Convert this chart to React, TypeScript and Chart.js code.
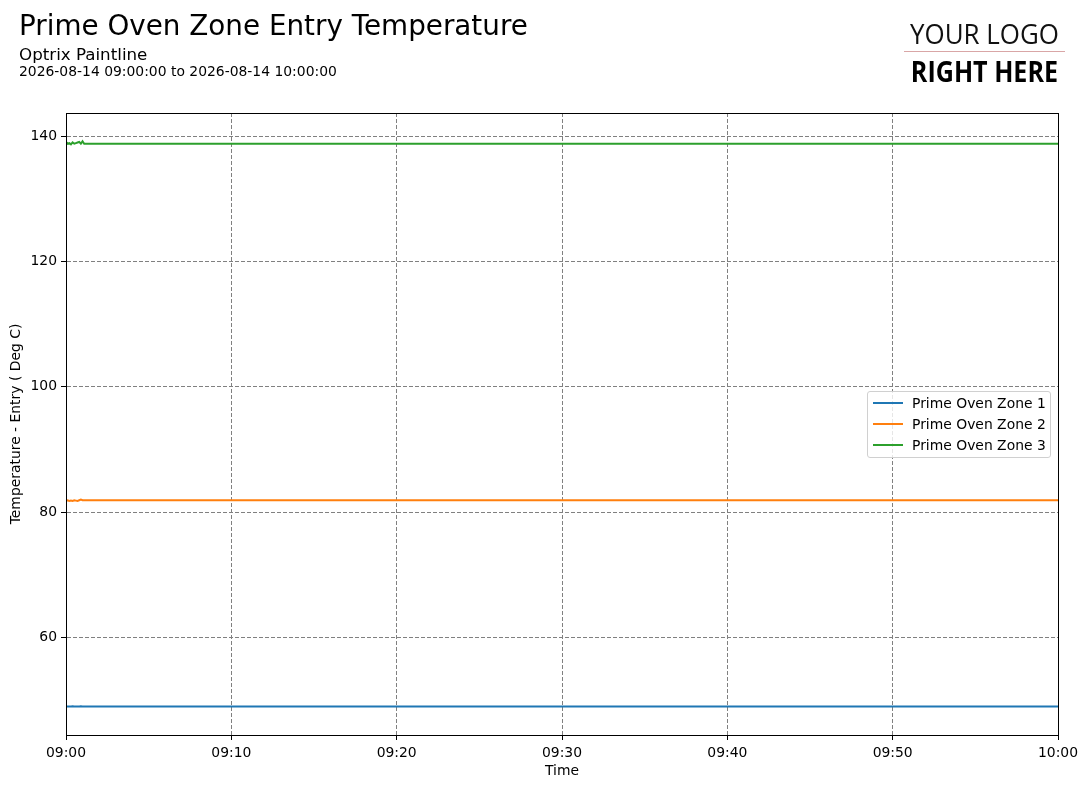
import React, { useEffect, useRef } from "react";
import { Chart, registerables } from "chart.js";

Chart.register(...registerables);

const timeSeconds = [0, 6, 12, 18, 24, 30, 36, 42, 48, 54, 60, 66, 72, 3600];
const zone1 = [49.0, 49.0, 48.98, 49.0, 49.02, 49.0, 48.98, 49.0, 49.0, 49.02, 49.0, 49.0, 49.0, 49.0];
const zone2 = [81.8, 81.9, 81.8, 81.85, 81.8, 81.9, 81.85, 81.8, 81.9, 82.0, 81.9, 81.9, 81.9, 81.9];
const zone3 = [139.1, 138.8, 138.9, 138.7, 139.0, 138.8, 138.9, 139.0, 139.1, 138.8, 139.2, 138.8, 138.8, 138.8];
const seriesNames = ["Prime Oven Zone 1", "Prime Oven Zone 2", "Prime Oven Zone 3"];
const seriesColors = ["#1f77b4", "#ff7f0e", "#2ca02c"];
const xTickLabels = ["09:00", "09:10", "09:20", "09:30", "09:40", "09:50", "10:00"];
const yTicks = [60, 80, 100, 120, 140];

const FONT = "'DejaVu Sans', sans-serif";
const TICK_SIZE = 13.9;

const framePlugin = {
  id: "frame",
  afterDraw(chart: any) {
    const { ctx, chartArea } = chart;
    ctx.save();
    ctx.setLineDash([]);
    ctx.strokeStyle = "#000";
    ctx.lineWidth = 1;
    ctx.strokeRect(
      Math.round(chartArea.left) + 0.5,
      Math.round(chartArea.top) + 0.5,
      Math.round(chartArea.right - chartArea.left),
      Math.round(chartArea.bottom - chartArea.top)
    );
    ctx.restore();
  },
};

const gridOpts: any = {
  color: "#808080",
  lineWidth: 1,
  tickLength: 5,
  tickColor: "#000",
  tickBorderDash: [],
  tickWidth: 1,
};

const borderOpts: any = { display: true, color: "#000", width: 1, dash: [4, 2] };

export default function App() {
  const ref = useRef<HTMLCanvasElement | null>(null);

  useEffect(() => {
    if (!ref.current) return;
    const series = [zone1, zone2, zone3];
    const chart = new Chart(ref.current, {
      type: "line",
      data: {
        datasets: series.map((vals, i) => ({
          label: seriesNames[i],
          data: timeSeconds.map((t, j) => ({ x: t, y: vals[j] })),
          borderColor: seriesColors[i],
          backgroundColor: seriesColors[i],
          borderWidth: 2,
          pointRadius: 0,
          tension: 0,
        })),
      },
      options: {
        animation: false,
        responsive: false,
        devicePixelRatio: 1,
        layout: { padding: { left: 0, top: 113, right: 29, bottom: 8 } },
        plugins: { legend: { display: false }, tooltip: { enabled: false } },
        scales: {
          x: {
            type: "linear",
            min: 0,
            max: 3600,
            afterFit: (s: any) => {
              s.height = 45;
            },
            ticks: {
              stepSize: 600,
              color: "#000",
              padding: 5,
              maxRotation: 0,
              font: { family: FONT, size: TICK_SIZE },
              callback: (v: any) => xTickLabels[Math.round(Number(v) / 600)] ?? "",
            },
            grid: gridOpts,
            border: borderOpts,
            title: {
              display: true,
              text: "Time",
              color: "#000",
              font: { family: FONT, size: TICK_SIZE },
              padding: { top: 0, bottom: 0 },
            },
          },
          y: {
            type: "linear",
            min: 44.45,
            max: 143.7,
            afterFit: (s: any) => {
              s.width = 66;
            },
            afterBuildTicks: (s: any) => {
              s.ticks = yTicks.map((v) => ({ value: v }));
            },
            ticks: {
              color: "#000",
              padding: 4,
              font: { family: FONT, size: TICK_SIZE },
              callback: (v: any) => String(v),
            },
            grid: gridOpts,
            border: borderOpts,
            title: {
              display: true,
              text: "Temperature - Entry ( Deg C)",
              color: "#000",
              font: { family: FONT, size: TICK_SIZE },
              padding: { top: 8, bottom: 4 },
            },
          },
        },
      },
      plugins: [framePlugin],
    });
    return () => chart.destroy();
  }, []);

  return (
    <div
      style={{
        position: "absolute",
        left: 0,
        top: 0,
        width: 1087,
        height: 788,
        background: "#fff",
        fontFamily: FONT,
        overflow: "hidden",
      }}
    >
      <canvas ref={ref} width={1087} height={788} style={{ position: "absolute", left: 0, top: 0 }} />
      <div style={{ position: "absolute", left: 19, top: 8, fontSize: 27.8, color: "#000", whiteSpace: "nowrap", lineHeight: "36px" }}>
        Prime Oven Zone Entry Temperature
      </div>
      <div style={{ position: "absolute", left: 19, top: 44, fontSize: 16.7, color: "#000", whiteSpace: "nowrap", lineHeight: "20px" }}>
        Optrix Paintline
      </div>
      <div style={{ position: "absolute", left: 19, top: 63, fontSize: 13.9, color: "#000", whiteSpace: "nowrap", lineHeight: "17px" }}>
        2026-08-14 09:00:00 to 2026-08-14 10:00:00
      </div>
      <div style={{ position: "absolute", left: 904, top: 16, width: 161, textAlign: "center", fontFamily: "'Open Sans', sans-serif", fontSize: 27, fontWeight: 400, color: "#111", lineHeight: "36px", whiteSpace: "nowrap", transform: "scaleX(0.96)", transformOrigin: "center" }}>
        YOUR LOGO
      </div>
      <div style={{ position: "absolute", left: 904, top: 51, width: 161, height: 1, background: "#d9a6a6" }} />
      <div style={{ position: "absolute", left: 900, top: 53, width: 161, textAlign: "center", fontFamily: "'Open Sans', sans-serif", fontSize: 29, fontWeight: 700, color: "#000", lineHeight: "36px", whiteSpace: "nowrap", transform: "scaleX(0.865)", transformOrigin: "center" }}>
        RIGHT HERE
      </div>
      <div
        style={{
          position: "absolute",
          left: 867,
          top: 391,
          width: 182,
          height: 65,
          border: "1px solid #d0d0d0",
          borderRadius: 3,
          background: "rgba(255,255,255,0.8)",
        }}
      >
        {seriesNames.map((name, i) => (
          <div key={name} style={{ position: "absolute", left: 5, top: 1 + i * 21, height: 19, display: "flex", alignItems: "center" }}>
            <div style={{ width: 30, height: 2, background: seriesColors[i] }} />
            <div style={{ marginLeft: 9, fontSize: 13.9, color: "#000", whiteSpace: "nowrap" }}>{name}</div>
          </div>
        ))}
      </div>
    </div>
  );
}
